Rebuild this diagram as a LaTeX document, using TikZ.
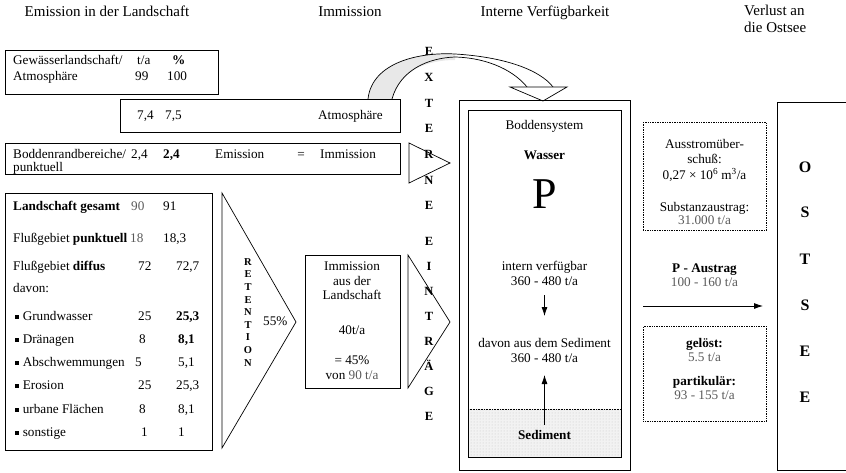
\documentclass[tikz,border=0pt]{standalone}
\usepackage{fontspec}
\setmainfont{Liberation Serif}
\usetikzlibrary{arrows.meta,patterns}
\newcommand\bodyfs{\fontsize{13.2}{15}\selectfont}
\newcommand\titlefs{\fontsize{15}{17}\selectfont}
\newcommand\vfs{\fontsize{12.5}{14}\selectfont\bfseries}
\newcommand\rfs{\fontsize{10.5}{12}\selectfont\bfseries}
\newcommand\bul{\rule[1.5pt]{3.6pt}{3.6pt}\hspace{4pt}}
\definecolor{lite}{gray}{0.35}
\begin{document}
\begin{tikzpicture}[x=1pt,y=-1pt,
  box/.style={draw, line width=0.7pt},
  dbox/.style={draw, line width=0.7pt, densely dotted},
  L/.style={anchor=mid west, inner sep=0pt, font=\bodyfs},
  C/.style={anchor=mid, inner sep=0pt, font=\bodyfs, align=center},
  T/.style={anchor=mid, inner sep=0pt, font=\titlefs, align=center},
  V/.style={anchor=mid, inner sep=0pt, font=\vfs},
  R/.style={anchor=mid, inner sep=0pt, font=\rfs},
  O/.style={anchor=mid, inner sep=0pt, font=\fontsize{16}{18}\selectfont\bfseries},
  arr/.style={-{Latex[length=9pt,width=6pt]}, line width=0.8pt},
  tri/.style={draw, line width=0.7pt}]
\useasboundingbox (0,0) rectangle (846,473);

% titles
\node[T] (t1) at (107,14) {Emission in der Landschaft};
\node[T] (t2) at (350,14) {Immission};
\node[T] (t3) at (545,14) {Interne Verfügbarkeit};
\node[T, align=left, anchor=north west] (t4) at (744,5) {Verlust an\\die Ostsee};

% box 1
\node[box, minimum width=213pt, minimum height=44pt, anchor=north west] (b1) at (5,50) {};
\node[L] (b1a) at (13,62) {Gewässerlandschaft/};
\node[L] (b1b) at (137,62) {t/a};
\node[L] (b1c) at (172,62) {\bfseries\%};
\node[L] (b1d) at (13,78) {Atmosphäre};
\node[L] (b1e) at (135,78) {99};
\node[L] (b1f) at (167,78) {100};

% box 2
\node[box, minimum width=280pt, minimum height=33pt, anchor=north west] (b2) at (120,99) {};
\node[L] (b2a) at (137,117) {7,4};
\node[L] (b2b) at (165,117) {7,5};
\node[L] (b2c) at (318,117) {Atmosphäre};

% box 3
\node[box, minimum width=395pt, minimum height=31pt, anchor=north west] (b3) at (5,143) {};
\node[L] (b3a) at (13,156) {Boddenrandbereiche/};
\node[L] (b3b) at (131,156) {2,4};
\node[L] (b3c) at (163,156) {\bfseries 2,4};
\node[L] (b3d) at (215,156) {Emission};
\node[C] (b3e) at (301,156) {=};
\node[L] (b3f) at (320,156) {Immission};
\node[L] (b3g) at (13,169) {punktuell};

% box 4
\node[box, minimum width=207pt, minimum height=257pt, anchor=north west] (b4) at (5,193) {};
\node[L] (r1a) at (13,208) {\bfseries Landschaft gesamt};
\node[L, text=lite] (r1b) at (131,208) {90};
\node[L] (r1c) at (163,208) {91};
\node[L] (r2a) at (13,240) {Flußgebiet \textbf{punktuell}};
\node[L, text=lite] (r2b) at (130,240) {18};
\node[L] (r2c) at (163,240) {18,3};
\node[L] (r3a) at (13,268) {Flußgebiet \textbf{diffus}};
\node[L] (r3b) at (138,268) {72};
\node[L] (r3c) at (176,268) {72,7};
\node[L] (r4a) at (13,290) {davon:};
\node[L] (r5a) at (15,318) {\bul Grundwasser};
\node[L] (r5b) at (138,318) {25};
\node[L] (r5c) at (176,318) {\bfseries 25,3};
\node[L] (r6a) at (15,341) {\bul Dränagen};
\node[L] (r6b) at (139,341) {8};
\node[L] (r6c) at (178,341) {\bfseries 8,1};
\node[L] (r7a) at (15,364) {\bul Abschwemmungen};
\node[L] (r7b) at (135,364) {5};
\node[L] (r7c) at (178,364) {5,1};
\node[L] (r8a) at (15,387) {\bul Erosion};
\node[L] (r8b) at (138,387) {25};
\node[L] (r8c) at (176,387) {25,3};
\node[L] (r9a) at (15,411) {\bul urbane Flächen};
\node[L] (r9b) at (139,411) {8};
\node[L] (r9c) at (178,411) {8,1};
\node[L] (r10a) at (15,434) {\bul sonstige};
\node[L] (r10b) at (141,434) {1};
\node[L] (r10c) at (178,434) {1};

% retention triangle
\draw[tri] (222,193) -- (296,322) -- (222,448) -- cycle;
\foreach \ch [count=\i from 0] in {R,E,T,E,N,T,I,O,N}
  \node[R] (ret\i) at (248,263+12.6*\i) {\ch};
\node[L] (pc) at (263,323) {55\%};

% immission box
\node[box, minimum width=95pt, minimum height=133pt, anchor=north west] (b5) at (305,255) {};
\node[C] (i1) at (352,268) {Immission};
\node[C] (i2) at (352,283) {aus der};
\node[C] (i3) at (352,297) {Landschaft};
\node[C] (i4) at (352,332) {40t/a};
\node[C] (i5) at (352,362) {= 45\%};
\node[C] (i6) at (352,377) {von \textcolor{lite}{90 t/a}};

% small triangles
\draw[tri] (409,143) -- (450,163) -- (409,183) -- cycle;
\draw[tri] (408,255) -- (450,322) -- (408,388) -- cycle;

% externe eintraege
\foreach \ch/\yy [count=\i] in {E/53,X/79,T/105,E/130,R/156,N/182,E/207,E/243,I/268,N/293,T/318,R/343,Ä/368,G/393,E/418}
  \node[V] (ext\i) at (429,\yy) {\ch};

% curved arrow band
\fill[gray!18] (368,99) .. controls (372,62) and (420,52) .. (455,54)
   -- (455,60) .. controls (428,60) and (400,70) .. (392,99) -- cycle;
\draw[line width=0.7pt] (368,99) .. controls (372,62) and (420,52) .. (455,54)
   .. controls (505,57) and (540,70) .. (553,87);
\draw[line width=0.7pt] (392,99) .. controls (400,70) and (428,58) .. (455,57)
   .. controls (490,58) and (515,72) .. (527,87);
\draw[line width=0.7pt, fill=white] (510,87) -- (567,87) -- (543,101) -- cycle;

% Boddensystem
\node[box, minimum width=171pt, minimum height=370pt, anchor=north west] (bo) at (459,100) {};
\fill[gray!10] (468,409) rectangle (621,457);
\fill[pattern=dots, pattern color=gray!45] (468,409) rectangle (621,457);
\draw[densely dotted, line width=0.6pt] (468,409) -- (621,409);
\node[draw, line width=1.3pt, minimum width=153pt, minimum height=347pt, anchor=north west] (bi) at (468,110) {};
\node[C] (w0) at (544.5,127) {Boddensystem};
\node[C] (w1) at (544.5,157) {\bfseries Wasser};
\node[C, font=\fontsize{44}{44}\selectfont] (w2) at (544.5,206) {P};
\node[C] (w3) at (544.5,268) {intern verfügbar};
\node[C] (w4) at (544.5,283) {360 - 480 t/a};
\coordinate (a1s) at (544.5,295);
\coordinate (a1e) at (544.5,316);
\draw[arr] (a1s) -- (a1e);
\node[C] (w5) at (544.5,345) {davon aus dem Sediment};
\node[C] (w6) at (544.5,360) {360 - 480 t/a};
\coordinate (a2s) at (544.5,425);
\coordinate (a2e) at (544.5,375);
\draw[arr] (a2s) -- (a2e);
\node[C] (w7) at (544.5,437) {\bfseries Sediment};

% right column
\node[dbox, minimum width=123pt, minimum height=108pt, anchor=north west] (d1) at (643,122) {};
\node[C] (d1a) at (704.5,146) {Ausstromüber-};
\node[C] (d1b) at (704.5,161) {schuß:};
\node[C] (d1c) at (704.5,177) {0,27 × 10\textsuperscript{6} m\textsuperscript{3}/a};
\node[C] (d1d) at (704.5,209) {Substanzaustrag:};
\node[C, text=lite] (d1e) at (704.5,222) {31.000 t/a};

\node[C] (pa1) at (704.5,270) {\bfseries P - Austrag};
\node[C, text=lite] (pa2) at (704.5,284) {100 - 160 t/a};
\coordinate (a3s) at (643,306);
\coordinate (a3e) at (763,306);
\draw[arr] (a3s) -- (a3e);

\node[dbox, minimum width=123pt, minimum height=95pt, anchor=north west] (d2) at (643,326) {};
\node[C] (d2a) at (704.5,345) {\bfseries gelöst:};
\node[C, text=lite] (d2b) at (704.5,359) {5.5 t/a};
\node[C] (d2c) at (704.5,383) {\bfseries partikulär:};
\node[C, text=lite] (d2d) at (704.5,397) {93 - 155 t/a};

% Ostsee
\draw[line width=0.7pt] (846,102) -- (777,102) -- (777,470) -- (846,470);
\foreach \ch/\yy [count=\i] in {O/170,S/215,T/262,S/308,E/354,E/400}
  \node[O] (os\i) at (805,\yy) {\ch};
\end{tikzpicture}
\end{document}
